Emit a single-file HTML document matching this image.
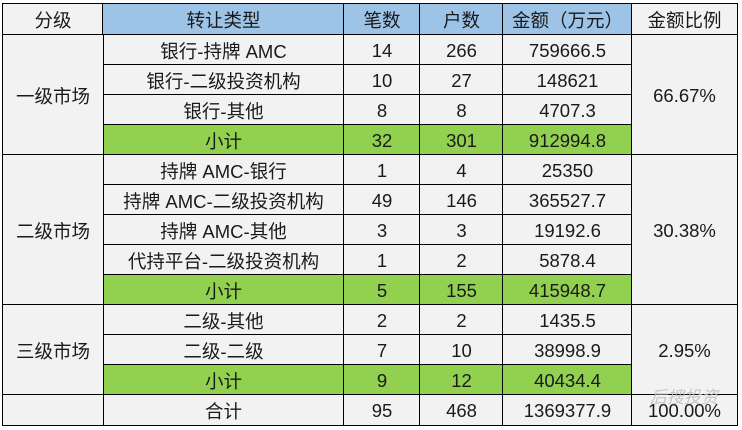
<!DOCTYPE html>
<html><head><meta charset="utf-8"><style>
body{margin:0;width:742px;height:430px;background:#fff;position:relative;overflow:hidden;font-family:"Liberation Sans","Noto Sans CJK SC",sans-serif;}
.c{position:absolute;box-sizing:border-box;border:1.5px solid #000;display:flex;align-items:center;justify-content:center;font-size:18.5px;color:#1a1a1a;background:#f2f2f2;margin:-0.75px 0 0 -0.75px;padding-top:1px;}
.h{background:#9dc3e6}
.g{background:#92d050}
</style></head><body>
<div id="t"></div>
<script>
var X=[3,103,344,420,503,632,737];
var Y=[4,35];for(var i=1;i<=13;i++)Y.push(35+30*i);
var out='';
function cell(c0,c1,r0,r1,txt,cls){out+='<div class="c '+(cls||'')+'" style="left:'+X[c0]+'px;top:'+Y[r0]+'px;width:'+(X[c1]-X[c0]+1.5)+'px;height:'+(Y[r1]-Y[r0]+1.5)+'px">'+txt+'</div>';}
cell(0,1,0,1,'分级');cell(1,2,0,1,'转让类型','h');cell(2,3,0,1,'笔数','h');cell(3,4,0,1,'户数','h');cell(4,5,0,1,'金额（万元）','h');cell(5,6,0,1,'金额比例');
var rows=[['银行-持牌 AMC','14','266','759666.5'],['银行-二级投资机构','10','27','148621'],['银行-其他','8','8','4707.3'],['小计','32','301','912994.8',1],
['持牌 AMC-银行','1','4','25350'],['持牌 AMC-二级投资机构','49','146','365527.7'],['持牌 AMC-其他','3','3','19192.6'],['代持平台-二级投资机构','1','2','5878.4'],['小计','5','155','415948.7',1],
['二级-其他','2','2','1435.5'],['二级-二级','7','10','38998.9'],['小计','9','12','40434.4',1],['合计','95','468','1369377.9']];
for(var r=0;r<rows.length;r++){var R=rows[r];for(var c=0;c<4;c++)cell(c+1,c+2,r+1,r+2,R[c],R[4]?'g':'');}
cell(0,1,1,5,'一级市场');cell(5,6,1,5,'66.67%');
cell(0,1,5,10,'二级市场');cell(5,6,5,10,'30.38%');
cell(0,1,10,13,'三级市场');cell(5,6,10,13,'2.95%');
cell(0,1,13,14,'');cell(5,6,13,14,'100.00%');
document.getElementById('t').innerHTML=out;
</script>
<div style="position:absolute;left:650px;top:383px;font-size:17px;color:rgba(190,190,190,0.85);font-style:italic">后搜投资</div>
</body></html>
